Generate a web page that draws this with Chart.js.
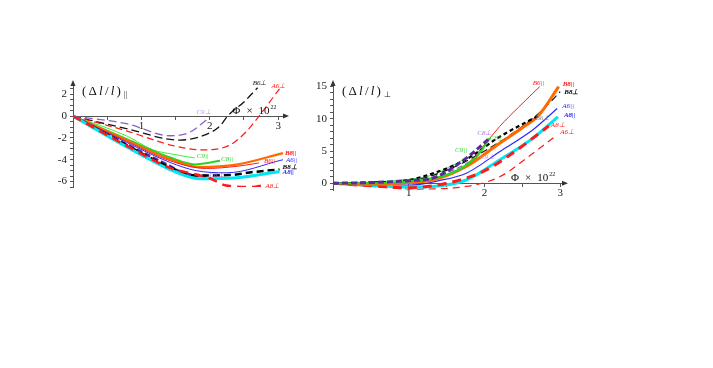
<!DOCTYPE html>
<html>
<head>
<meta charset="utf-8">
<script src="https://cdn.jsdelivr.net/npm/chart.js@4/dist/chart.umd.min.js"></script>
<style>
  html, body { margin: 0; padding: 0; background: #fff; }
  #wrap { position: relative; width: 713px; height: 368px; }
  canvas { position: absolute; top: 0; }
  #parCanvas { left: 0; }
  #perpCanvas { left: 300px; }
</style>
</head>
<body>
<div id="wrap">
  <canvas id="parCanvas" width="300" height="200"></canvas>
  <canvas id="perpCanvas" width="300" height="200"></canvas>
</div>
<script>
// ---- data: left panel, (dl/l) parallel, [phi, value] ----
var parA8perp = [[0,0],[0.78,-2.7],[1.42,-4.75],[1.75,-5.28],[2.0,-5.7],[2.24,-6.36],[2.63,-6.5],[2.77,-6.36]];
var parA8par  = [[0,0],[0.78,-2.8],[1.42,-4.9],[1.85,-5.74],[2.39,-5.65],[3.02,-5.07]];
var parB8perp = [[0,0],[0.78,-2.65],[1.42,-4.7],[1.8,-5.45],[2.3,-5.4],[2.63,-5.13],[3.02,-4.9]];
var parC8perp = [[0,0],[0.78,-2.6],[1.42,-4.6],[1.6,-5.2],[1.95,-5.5]];
var parA6par  = [[0,0],[0.78,-2.4],[1.42,-4.25],[1.8,-5.0],[2.24,-5.2],[3.07,-4.0]];
var parB6par  = [[0,0],[0.78,-2.3],[1.42,-4.1],[1.95,-4.8],[2.4,-4.6],[2.72,-4.3]];
var parB8par  = [[0,0],[0.78,-2.2],[1.42,-3.95],[1.85,-4.67],[2.39,-4.45],[3.07,-3.4]];
var parC8par  = [[0,0],[0.78,-2.1],[1.42,-3.8],[1.78,-4.43],[2.15,-4.1]];
var parC9par  = [[0,0],[0.78,-1.8],[1.17,-3.1],[1.42,-3.45],[1.78,-3.84]];
var parA6perp = [[0,0],[0.78,-1.35],[1.46,-2.7],[1.9,-3.1],[2.29,-2.67],[2.53,-1.45],[2.72,0],[3.02,2.5]];
var parB6perp = [[0,0],[0.78,-1.15],[1.56,-2.2],[1.9,-1.8],[2.15,-0.9],[2.26,0],[2.5,1.3],[2.7,2.6]];
var parC9perp = [[0,0],[0.78,-0.7],[1.42,-1.8],[1.7,-1.5],[1.98,-0.2]];

// ---- data: right panel, (dl/l) perpendicular ----
var perpB6par  = [[0,0],[0.5,-0.2],[1.0,0],[1.23,0.5],[1.54,1.3],[1.76,2.8],[1.98,5.7],[2.2,8.8],[2.45,11.8],[2.73,15.0]];
var perpB8par  = [[0,0],[0.5,-0.2],[1.0,0.1],[1.32,0.5],[1.76,2.6],[2.2,6.2],[2.5,8.6],[2.72,10.6],[2.98,15.0]];
var perpB8perp = [[0,0],[0.5,0],[1.0,0.3],[1.5,2.0],[2.0,5.0],[2.5,8.8],[2.75,11.2],[3.0,14.2]];
var perpB6perp = [[0,0],[0.5,0.1],[1.0,0.5],[1.5,2.3],[1.76,3.7],[2.2,7.2],[2.7,10.4]];
var perpA6par  = [[0,0],[0.5,-0.2],[1.0,-0.3],[1.4,0.4],[1.76,1.55],[2.2,4.9],[2.64,8.3],[2.96,11.6]];
var perpA8par  = [[0,0],[0.5,-0.3],[1.0,-0.6],[1.32,-0.5],[1.76,0.5],[2.2,3.6],[2.64,7.0],[2.97,10.3]];
var perpA8perp = [[0,0],[0.5,-0.4],[1.0,-0.7],[1.5,0],[1.98,1.8],[2.34,4.4],[2.85,8.9]];
var perpA6perp = [[0,0],[0.5,-0.5],[1.1,-0.9],[1.76,-0.5],[2.2,1.0],[2.64,4.65],[2.96,7.5]];
var perpC9par  = [[0,0],[0.5,0.2],[1.0,0.6],[1.32,1.3],[1.63,3.1],[1.85,4.4]];
var perpC8par  = [[0,0],[0.5,0],[1.0,0.3],[1.55,1.5],[1.9,4.2],[2.07,7.0]];
var perpC8perp = [[0,0],[0.5,0.1],[1.0,0.4],[1.32,0.8],[1.76,3.9],[2.05,6.8]];
var perpC9perp = [[0,0],[0.5,0],[1.0,0.2],[1.5,1.6],[1.9,3.9]];

// tick labels
var parXTicks = [1, 2, 3];
var parYTicks = [2, 0, -2, -4, -6];
var perpXTicks = [1, 2, 3];
var perpYTicks = [0, 5, 10, 15];

// ---- styles (colour, width, dash, label offset in px) ----
var RED = '#ff1a1a', ORANGE = '#ff6a00', BLUE = '#2a2aff', CYAN = '#00e6f2';
var GREEN = '#3cf03c', GREEN2 = '#22d622', PURPLE = '#5a2aa0', LILAC = '#8a60c8';

function series(label, pts, color, width, dash, dx, dy, tagColor, bold) {
  return {
    label: label,
    data: pts.map(function(p) { return { x: p[0], y: p[1] }; }),
    borderColor: color,
    borderWidth: width,
    borderDash: dash || [],
    pointRadius: 0,
    fill: false,
    cubicInterpolationMode: 'monotone',
    tagDx: dx, tagDy: dy,
    tagColor: tagColor || color,
    tagBold: !!bold
  };
}

var parSets = [
  series('A8\u22a5', parA8perp, RED, 2.5, [9, 6], 3, 1),
  series('A8||', parA8par, CYAN, 3, null, 3, 1, BLUE, true),
  series('B8\u22a5', parB8perp, '#000', 2.5, [7, 4], 3, -2, '#000', true),
  series('C8\u22a5', parC8perp, PURPLE, 3, [6, 3], 3, -1, LILAC),
  series('A6||', parA6par, BLUE, 1, null, 3, 0),
  series('B6||', parB6par, RED, 1, null, 5, -2),
  series('B8||', parB8par, ORANGE, 2.2, null, 2, 0, RED, true),
  series('C8||', parC8par, GREEN2, 2, null, 1, -2, GREEN2),
  series('C9||', parC9par, GREEN, 1, null, 2, -2, GREEN2),
  series('A6\u22a5', parA6perp, RED, 1.2, [7, 4], -8, -3),
  series('B6\u22a5', parB6perp, '#111', 1.3, [8, 4], -5, -5),
  series('C9\u22a5', parC9perp, LILAC, 1.3, [8, 4], -12, -6, '#c08af0')
];

var perpSets = [
  series('C8\u22a5', perpC8perp, PURPLE, 3, [6, 3], -11, -6, '#b070e0'),
  series('C8||', perpC8par, GREEN2, 2.2, null, 0, 0, GREEN2),
  series('B6\u22a5', perpB6perp, '#000', 2.2, [4, 3], -2, 2, '#888'),
  series('B8||', perpB8par, ORANGE, 3, null, 4, -2, RED, true),
  series('B8\u22a5', perpB8perp, '#111', 1.2, [7, 4], 4, 0, '#000', true),
  series('A8\u22a5', perpA8perp, RED, 3, [9, 6], 2, -1),
  series('A8||', perpA8par, CYAN, 3, null, 6, -2, BLUE, true),
  series('A6||', perpA6par, BLUE, 1.2, null, 5, -2),
  series('B6||', perpB6par, RED, 1, null, -7, -3),
  series('A6\u22a5', perpA6perp, RED, 1.2, [7, 5], 3, -3),
  series('C9||', perpC9par, GREEN, 1, null, -18, -5, GREEN2),
  series('C9\u22a5', perpC9perp, LILAC, 1.2, [6, 3], 3, -1, '#c08af0')
];

// labels at the end of each curve
var curveTags = {
  id: 'curveTags',
  afterDatasetsDraw: function(chart) {
    var ctx = chart.ctx;
    ctx.save();
    ctx.textAlign = 'left';
    ctx.textBaseline = 'middle';
    chart.data.datasets.forEach(function(ds, i) {
      var pts = chart.getDatasetMeta(i).data;
      var last = pts[pts.length - 1];
      ctx.font = 'italic ' + (ds.tagBold ? 'bold ' : '') + '7px "Liberation Serif", serif';
      ctx.fillStyle = ds.tagColor;
      ctx.fillText(ds.label, last.x + ds.tagDx, last.y + ds.tagDy);
    });
    ctx.restore();
  }
};

// axis arrows, axis titles and the phi label
function decorPlugin(sub, phiAt, phiDy) {
  return {
    id: 'decor',
    afterDraw: function(chart) {
      var ctx = chart.ctx, a = chart.chartArea;
      var xs = chart.scales.x, ys = chart.scales.y;
      var x0 = xs.getPixelForValue(0), y0 = ys.getPixelForValue(0);
      ctx.save();
      ctx.fillStyle = '#333';
      // arrow on y axis
      ctx.beginPath();
      ctx.moveTo(x0, a.top - 5);
      ctx.lineTo(x0 - 2.5, a.top + 1);
      ctx.lineTo(x0 + 2.5, a.top + 1);
      ctx.closePath();
      ctx.fill();
      // arrow on x axis
      ctx.beginPath();
      ctx.moveTo(a.right + 4, y0);
      ctx.lineTo(a.right - 2, y0 - 2.5);
      ctx.lineTo(a.right - 2, y0 + 2.5);
      ctx.closePath();
      ctx.fill();

      // y title
      ctx.fillStyle = '#111';
      ctx.textBaseline = 'middle';
      ctx.textAlign = 'left';
      var tx = x0 + 9, ty = a.top + 7;
      var parts = [['(', ''], ['\u0394', ''], ['l', 'italic '], ['/', ''], ['l', 'italic '], [')', '']];
      parts.forEach(function(p) {
        ctx.font = p[1] + '13px "Liberation Serif", serif';
        ctx.fillText(p[0], tx, ty);
        tx += ctx.measureText(p[0]).width + 2.2;
      });
      ctx.font = '8px "Liberation Serif", serif';
      ctx.fillText(sub, tx + 1, ty + 3);

      // phi x 10^22
      ctx.font = '11px "Liberation Serif", serif';
      var px = xs.getPixelForValue(phiAt), py = y0 + phiDy;
      ctx.fillText('\u03a6', px, py);
      px += ctx.measureText('\u03a6').width + 6;
      ctx.fillText('\u00d7', px, py);
      px += ctx.measureText('\u00d7').width + 6;
      ctx.fillText('10', px, py);
      px += ctx.measureText('10').width + 1;
      ctx.font = '6px "Liberation Serif", serif';
      ctx.fillText('22', px, py - 4);
      ctx.restore();
    }
  };
}

function makeChart(id, sets, xMax, yMin, yMax, yStep, xTicks, yTicks, yWidth, pad, sub, phiAt, phiDy) {
  return new Chart(document.getElementById(id), {
    type: 'line',
    data: { datasets: sets },
    options: {
      responsive: false,
      animation: false,
      layout: { padding: pad },
      plugins: { legend: { display: false }, tooltip: { enabled: false } },
      scales: {
        x: {
          type: 'linear',
          position: { y: 0 },
          min: 0, max: xMax,
          border: { display: true, color: '#555', width: 1 },
          grid: { display: true, drawOnChartArea: false, drawTicks: true, tickLength: 3, color: '#555' },
          ticks: {
            stepSize: 0.5, includeBounds: false, autoSkip: false, maxRotation: 0, padding: 0,
            color: '#222', font: { family: '"Liberation Serif", serif', size: 11 },
            callback: function(v) { return xTicks.indexOf(v) >= 0 ? String(v) : ''; }
          }
        },
        y: {
          type: 'linear',
          position: 'left',
          min: yMin, max: yMax,
          afterFit: function(scale) { scale.width = yWidth; },
          border: { display: true, color: '#555', width: 1 },
          grid: { display: true, drawOnChartArea: false, drawTicks: true, tickLength: 3, color: '#555' },
          ticks: {
            stepSize: yStep, includeBounds: false, autoSkip: false, padding: 3,
            color: '#222', font: { family: '"Liberation Serif", serif', size: 11 },
            callback: function(v) { return yTicks.indexOf(v) >= 0 ? String(v) : ''; }
          }
        }
      }
    },
    plugins: [curveTags, decorPlugin(sub, phiAt, phiDy)]
  });
}

makeChart('parCanvas', parSets, 3.1, -6.5, 2.85, 0.5, parXTicks, parYTicks, 30,
  { left: 43, top: 85, right: 15, bottom: 13 }, '||', 2.33, -5);
makeChart('perpCanvas', perpSets, 3.05, -1.05, 15.24, 1, perpXTicks, perpYTicks, 25,
  { left: 8, top: 85, right: 36, bottom: 10 }, '\u22a5', 2.35, -5);
</script>
</body>
</html>
